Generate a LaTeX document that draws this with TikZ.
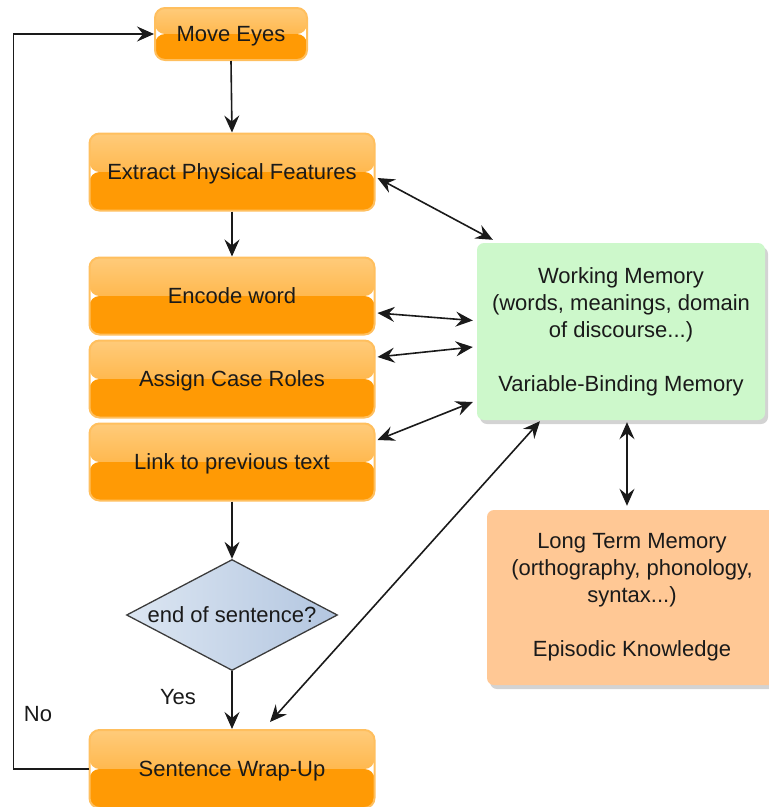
\documentclass[tikz,border=0pt]{standalone}
\usepackage{fontspec}
\setmainfont{Liberation Sans}
\usetikzlibrary{arrows.meta,shapes.geometric,shadows}
\definecolor{otop}{HTML}{FFCB7A}
\definecolor{omid}{HTML}{FFA624}
\definecolor{obot}{HTML}{FF9A05}
\definecolor{oborder}{HTML}{FFBF5E}
\definecolor{wmfill}{HTML}{CDF8CB}
\definecolor{ltmfill}{HTML}{FFC895}
\definecolor{dl}{HTML}{DCE6F2}
\definecolor{dr}{HTML}{B3C6E0}
\definecolor{ink}{HTML}{1A1A1A}
\begin{document}
\begin{tikzpicture}[x=1pt,y=-1pt, font=\fontsize{22}{27}\selectfont, text=ink,
  obox/.style={rounded corners=10pt, draw=oborder, line width=2pt,
    minimum width=285pt, minimum height=77pt, inner sep=0pt,
    text height=15.8pt, text depth=0pt,
    path picture={
      \shade[top color=otop, bottom color=omid] (path picture bounding box.north west) rectangle (path picture bounding box.east);
      \fill[obot] (path picture bounding box.west) rectangle (path picture bounding box.south east);}},
  membox/.style={rounded corners=7pt, align=center, inner sep=0pt,
    drop shadow={shadow xshift=3pt, shadow yshift=-4pt, opacity=0.35}},
  decision/.style={diamond, draw=ink!85, line width=1.3pt, left color=dl, right color=dr,
    minimum width=211pt, minimum height=111pt, inner sep=0pt},
  tip/.tip={Stealth[length=17pt,width=15pt,inset=6pt]},
  conn/.style={draw=ink, line width=1.6pt, -tip},
  bi/.style={draw=ink, line width=1.6pt, tip-tip},
  lbl/.style={inner sep=0pt, text height=15.8pt, text depth=0pt}]
\useasboundingbox (0,0) rectangle (769,807);

\node[obox, minimum width=152pt, minimum height=52pt] (move) at (231,34) {Move Eyes};
\node[obox] (ext) at (232,172) {Extract Physical Features};
\node[obox] (enc) at (232,296) {Encode word};
\node[obox] (asg) at (232,379) {Assign Case Roles};
\node[obox] (lnk) at (232,462) {Link to previous text};
\node[decision] (dec) at (232,615) {};
\node[lbl] (dect) at (dec) {end of sentence?};
\node[obox, minimum height=78pt] (wrap) at (232,769) {Sentence Wrap-Up};

\node[membox, fill=wmfill, minimum width=288pt, minimum height=177pt] (wm) at (621,331.5)
  {Working Memory\\(words, meanings, domain\\of discourse...)\\[27pt]Variable-Binding Memory};
\node[membox, fill=ltmfill, minimum width=290pt, minimum height=175pt] (ltm) at (632,597.5)
  {Long Term Memory\\(orthography, phonology,\\syntax...)\\[27pt]Episodic Knowledge};

\node[lbl] (yes) at (178,697) {Yes};
\node[lbl] (no) at (38,714) {No};

\draw[conn] (move.south) -- (ext.north);
\draw[conn] (ext.south) -- (enc.north);
\draw[conn] (lnk.south) -- (dec.north);
\draw[conn] (dec.south) -- (wrap.north);
\draw[conn] (wrap.west) -- ++(-75,0) |- (move.west);

\draw[bi] ([xshift=2pt,yshift=-6pt]ext.east) -- ([xshift=16pt,yshift=3pt]wm.north west);
\draw[bi] ([xshift=2pt,yshift=-17pt]enc.east) -- ([xshift=-4pt,yshift=11pt]wm.west);
\draw[bi] ([xshift=2pt,yshift=22pt]asg.east) -- ([xshift=-4pt,yshift=-15.5pt]wm.west);
\draw[bi] ([xshift=2pt,yshift=22pt]lnk.east) -- ([xshift=-4pt,yshift=-70.5pt]wm.west);
\draw[bi] ([xshift=-81pt,yshift=-1pt]wm.south) -- ([xshift=38pt,yshift=7pt]wrap.north);
\draw[bi] ([xshift=6pt,yshift=-2pt]wm.south) -- ([xshift=-5pt,yshift=4pt]ltm.north);
\end{tikzpicture}
\end{document}
